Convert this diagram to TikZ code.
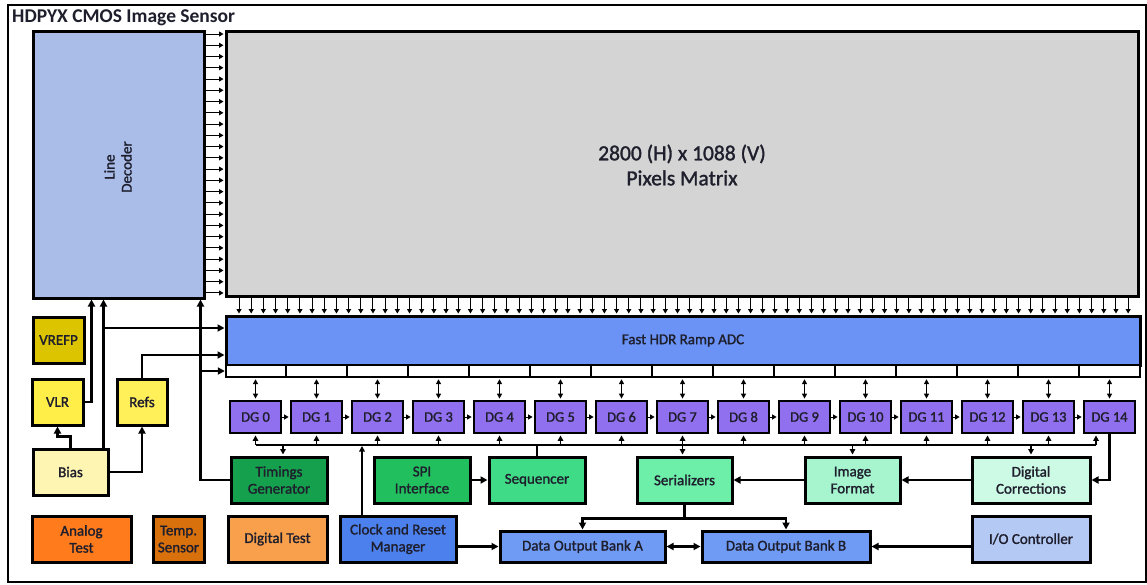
\documentclass[tikz,border=0pt]{standalone}
\usepackage{fontspec}
\setmainfont{Carlito}
\newfontfamily\semibf{Carlito}[FakeBold=1.4]
\usetikzlibrary{arrows.meta,calc}
\definecolor{txt}{HTML}{1E1E2C}
\definecolor{cLD}{HTML}{A9BDE8}
\definecolor{cPix}{HTML}{D4D4D4}
\definecolor{cADC}{HTML}{6A93F5}
\definecolor{cDG}{HTML}{9070EE}
\definecolor{cTG}{HTML}{15A04E}
\definecolor{cSPI}{HTML}{22BF5E}
\definecolor{cSeq}{HTML}{3FDB86}
\definecolor{cSer}{HTML}{6DEFA9}
\definecolor{cIF}{HTML}{A6F5CF}
\definecolor{cDC}{HTML}{CDFAE5}
\definecolor{cAT}{HTML}{FF7B1C}
\definecolor{cTS}{HTML}{D8700C}
\definecolor{cDT}{HTML}{F8A04C}
\definecolor{cCRM}{HTML}{4C80EC}
\definecolor{cBank}{HTML}{6F9BF5}
\definecolor{cIO}{HTML}{B5C9F5}
\definecolor{cVREFP}{HTML}{DCC500}
\definecolor{cVLR}{HTML}{FFEE48}
\definecolor{cRefs}{HTML}{FFEF58}
\definecolor{cBias}{HTML}{FFF5B2}
\newcommand{\blk}[7]{\node[box,#6,minimum width={(#4-#2)*1pt},minimum height={(#5-#3)*1pt}] (#1) at ({(#2+#4)/2},{(#3+#5)/2}) {#7};}
\begin{document}
\begin{tikzpicture}[x=1pt,y=-1pt,
  box/.style={draw=black,line width=3pt,rectangle,inner sep=1pt,align=center,text=txt,font=\semibf\fontsize{15}{17}\selectfont},
  dg/.style={box,fill=cDG,minimum width=51pt,minimum height=32pt,line width=2.8pt,font=\semibf\fontsize{14.5}{16}\selectfont},
  conn/.style={line width=2.3pt},
  marrow/.style={conn,-{Triangle[length=7pt,width=7pt]}},
  darrow/.style={conn,{Triangle[length=7pt,width=7pt]}-{Triangle[length=7pt,width=7pt]}},
  barrow/.style={line width=1.6pt,-{Triangle[length=5.5pt,width=5.5pt]}},
  bdarrow/.style={line width=1.6pt,{Triangle[length=5.5pt,width=5.5pt]}-{Triangle[length=5.5pt,width=5.5pt]}},
  sarrow/.style={line width=1pt,-{Triangle[length=4.5pt,width=5pt]}},
  sdarrow/.style={line width=1.3pt,{Triangle[length=5pt,width=5pt]}-{Triangle[length=5pt,width=5pt]}},
]
\useasboundingbox (0,0) rectangle (1147,584);
\fill[white] (0,0) rectangle (1147,584);
\draw[line width=2.8pt] (8,5) rectangle (1146,582);
\node[anchor=west,inner sep=0pt,text=txt,font=\bfseries\fontsize{19.5}{22}\selectfont] (title) at (12,18) {HDPYX CMOS Image Sensor};

% top blocks
\blk{ld}{33}{31}{204}{298}{fill=cLD}{}
\node[rotate=90,align=center,text=txt,font=\semibf\fontsize{15}{17}\selectfont] (ldt) at (118,167) {Line\\Decoder};
\blk{pm}{226}{31}{1138}{296}{fill=cPix}{}
\node[align=center,text=txt,font=\semibf\fontsize{21.5}{25}\selectfont] (pmt) at (682,165) {2800 (H) x 1088 (V)\\Pixels Matrix};
\blk{adc}{226}{316}{1140}{365}{fill=cADC}{Fast HDR Ramp ADC}
\blk{adcs}{226}{365}{1140}{377}{fill=white,line width=2.4pt}{}
\foreach \k in {0,...,13}{\draw[line width=2.4pt] (adcs.north -| {286+61*\k},0) -- (adcs.south -| {286+61*\k},0);}

% line decoder -> pixels
\foreach \i in {0,...,23}{\pgfmathsetmacro\yy{34+\i*11.26}
  \draw[sarrow,shorten >=1pt] (ld.east |- 0,\yy) -- (pm.west |- 0,\yy);}
% pixels -> ADC
\foreach \i in {0,...,73}{\pgfmathsetmacro\xx{239+\i*12.18}
  \draw[sarrow,shorten >=1pt] (pm.south -| \xx,0) -- (adc.north -| \xx,0);}

% DG row
\foreach \k in {0,...,14}{\node[dg] (dg\k) at ({255.5+61*\k},417) {DG \k};}
\foreach \k in {0,...,14}{\draw[sdarrow,shorten >=1pt,shorten <=1pt] (adcs.south -| dg\k.north) -- (dg\k.north);}
\foreach \k [count=\n from 1] in {0,...,13}{\draw[sarrow,shorten >=1pt] (dg\k.east) -- (dg\n.west);}

% left column
\blk{vrefp}{33}{317}{84}{363}{fill=cVREFP}{VREFP}
\blk{vlr}{32}{379}{83}{425}{fill=cVLR}{VLR}
\blk{refs}{117}{379}{167}{425}{fill=cRefs}{Refs}
\blk{bias}{33}{449}{108}{495}{fill=cBias}{Bias}

% green row
\blk{tg}{231}{457}{327}{503}{fill=cTG}{Timings\\Generator}
\blk{spi}{374}{457}{470}{503}{fill=cSPI}{SPI\\Interface}
\blk{seq}{489}{457}{585}{503}{fill=cSeq}{Sequencer}
\blk{ser}{637}{457}{732}{503}{fill=cSer}{Serializers}
\blk{imgf}{805}{457}{900}{503}{fill=cIF}{Image\\Format}
\blk{dc}{972}{457}{1090}{503}{fill=cDC}{Digital\\Corrections}

% bottom row
\blk{at}{32}{516}{131}{562}{fill=cAT}{Analog\\Test}
\blk{ts}{153}{516}{204}{562}{fill=cTS}{Temp.\\Sensor}
\blk{dt}{228}{516}{327}{562}{fill=cDT}{Digital Test}
\blk{crm}{340}{516}{456}{562}{fill=cCRM}{Clock and Reset\\Manager}
\blk{bka}{500}{531}{665}{562}{fill=cBank}{Data Output Bank A}
\blk{bkb}{702}{531}{870}{562}{fill=cBank}{Data Output Bank B}
\blk{io}{972}{516}{1090}{562}{fill=cIO}{I/O Controller}

% bus under DGs
\coordinate (busL) at (dg0.south |- 0,445);
\coordinate (busR) at (1096,445);
\draw[line width=1.7pt] (busL) -- (busR);
\foreach \k in {0,1,2,3,4,5,6,8,9,10,11,12,13}{\draw[barrow,shorten >=1pt] (dg\k.south |- busL) -- (dg\k.south);}
\draw[barrow,shorten >=1pt] (busR) -- (busR |- dg14.south);
\draw[bdarrow,shorten >=1pt,shorten <=1pt] (dg7.south) -- (ser.north -| dg7.south);
\draw[barrow,shorten >=1pt] ([xshift=4pt]tg.north |- busL) -- ([xshift=4pt]tg.north);
\draw[line width=1.7pt] (seq.north) -- (seq.north |- busL);
\draw[barrow,shorten >=1pt] (imgf.north |- busL) -- (imgf.north);
\draw[barrow,shorten >=1pt] (dc.north |- busL) -- (dc.north);
\draw[barrow] ([xshift=-36pt]crm.north) -- ([xshift=-36pt,yshift=-1pt]crm.north |- busL);

% green row connections
\draw[marrow] (dg14.south) |- (dc.east);
\draw[marrow] (dc.west) -- (imgf.east);
\draw[marrow] (imgf.west) -- (ser.east);
\draw[marrow] (spi.east) -- (seq.west);
\coordinate (serj) at ([yshift=-14pt]ser.south);
\draw[conn] (ser.south) -- (serj);
\draw[marrow] (serj) -| (bka.north);
\draw[marrow] (serj) -| (bkb.north);
\draw[marrow] (crm.east |- bka.west) -- (bka.west);
\draw[darrow] (bka.east) -- (bkb.west);
\draw[marrow] (io.west |- bkb.east) -- (bkb.east);

% left connections
\coordinate (adcin1) at ([yshift=12.5pt]adc.west);
\coordinate (adcin2) at ([yshift=-14.5pt]adc.west);
\coordinate (biasup) at ([xshift=-6pt]bias.north east);
\coordinate (tgx) at ([xshift=-5pt]ld.south east);
\draw[marrow] (biasup) -- (biasup |- ld.south);
\draw[marrow] (biasup |- adcin1) -- (adcin1);
\draw[marrow] (vlr.east) -| ([xshift=60pt]ld.south west);
\draw[marrow] (bias.north) -- ++(0,-11) -| (vlr.south);
\draw[marrow] (bias.east) -| (refs.south);
\draw[marrow] (refs.north) |- (adcin2);
\draw[marrow] (tg.west) -| (tgx);
\draw[marrow] (tgx |- adcs.west) -- (adcs.west);
\end{tikzpicture}
\end{document}
